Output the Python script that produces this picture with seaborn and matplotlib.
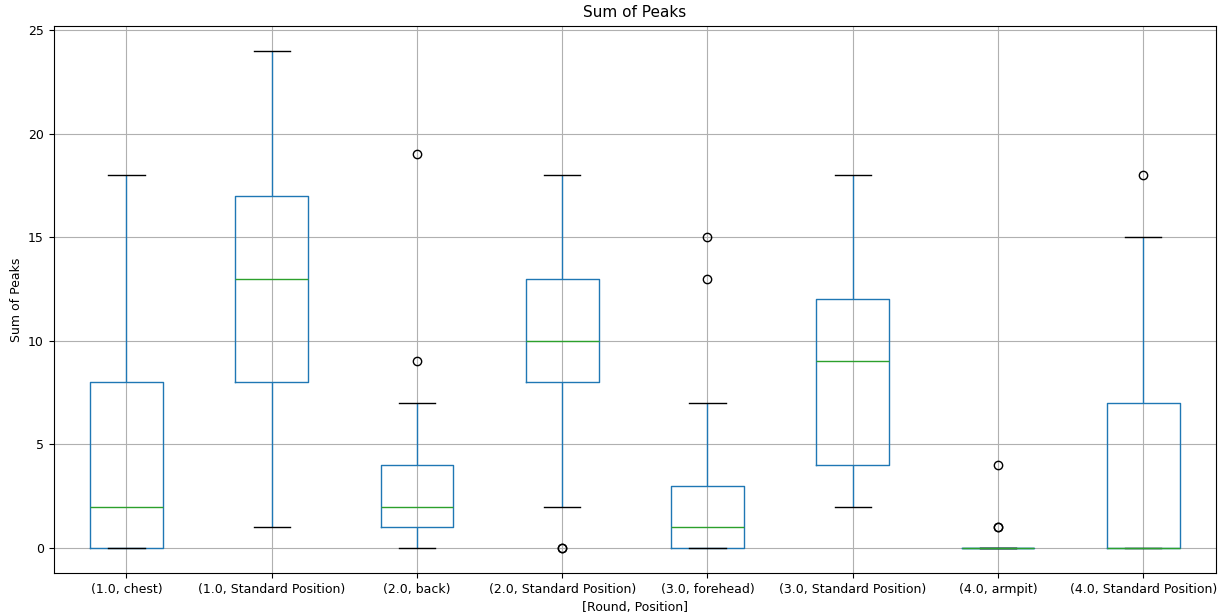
import pandas as pd
import seaborn as sns
import matplotlib.pyplot as plt

# Box statistics (one entry per Round/Position group)
groups = ['(1.0, chest)', '(1.0, Standard Position)', '(2.0, back)',
          '(2.0, Standard Position)', '(3.0, forehead)', '(3.0, Standard Position)',
          '(4.0, armpit)', '(4.0, Standard Position)']
whisker_low = [0, 1, 0, 2, 0, 2, 0, 0]
q1 = [0, 8, 1, 8, 0, 4, 0, 0]
median = [2, 13, 2, 10, 1, 9, 0, 0]
q3 = [8, 17, 4, 13, 3, 12, 0, 7]
whisker_high = [18, 24, 7, 18, 7, 18, 0, 15]
fliers = [[], [], [9, 19], [0, 0], [13, 15], [], [1, 1, 4], [18]]

# Build a long table whose quartiles/whiskers reproduce the stats above
rows = []
for i, g in enumerate(groups):
    vals = ([whisker_low[i]] + [q1[i]] * 10 + [median[i]] * 10
            + [q3[i]] * 10 + [whisker_high[i]] + fliers[i])
    rows += [(g, v) for v in vals]
df = pd.DataFrame(rows, columns=['group', 'peaks'])

plt.rcParams['font.size'] = 9

fig, ax = plt.subplots(figsize=(12.22, 6.14), dpi=100)
sns.boxplot(data=df, x='group', y='peaks', order=groups, ax=ax,
            width=0.5, fill=False, color='#1f77b4', linewidth=1.0, whis=1.5,
            medianprops=dict(color='#2ca02c', linewidth=1.0),
            whiskerprops=dict(color='#1f77b4', linewidth=1.0),
            capprops=dict(color='black', linewidth=1.0),
            flierprops=dict(marker='o', markersize=6, markerfacecolor='none',
                            markeredgecolor='black', markeredgewidth=1.0))

ax.grid(True, color='#b0b0b0', linewidth=0.8)
ax.set_axisbelow(True)
ax.set_xlim(-0.5, 7.5)
ax.set_ylim(-1.2, 25.2)
ax.set_yticks([0, 5, 10, 15, 20, 25])
ax.set_title('Sum of Peaks', fontsize=11)
ax.set_xlabel('[Round, Position]')
ax.set_ylabel('Sum of Peaks')

plt.subplots_adjust(left=0.044, right=0.995, top=0.958, bottom=0.067)
plt.savefig('out.png', dpi=100)
